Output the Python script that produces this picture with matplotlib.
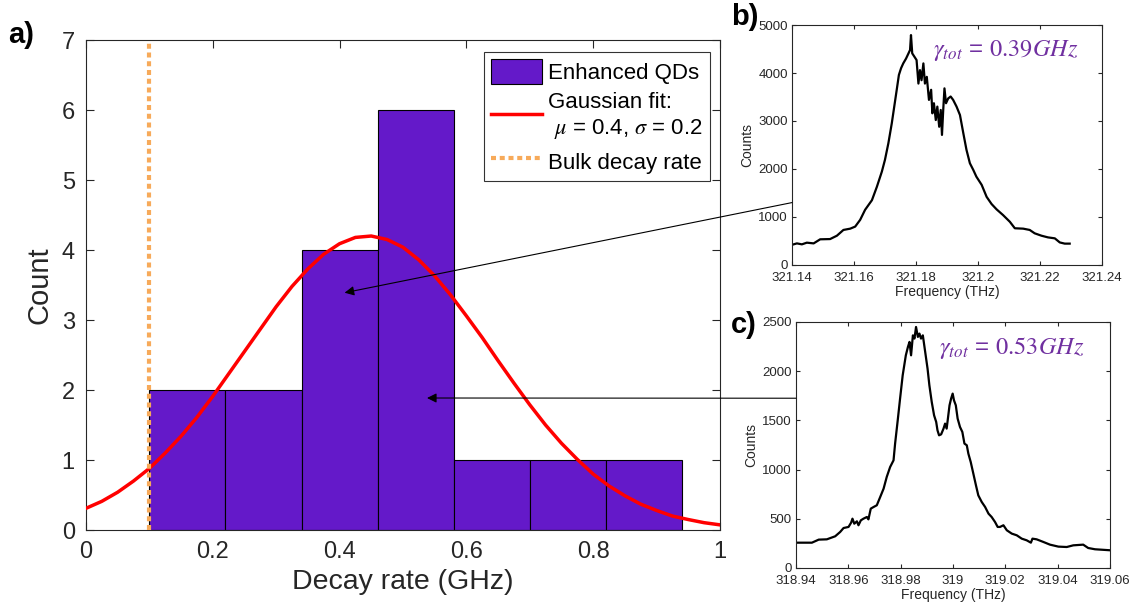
import matplotlib
matplotlib.use("Agg")
import matplotlib.pyplot as plt
import numpy as np
from matplotlib.patches import ConnectionPatch
from matplotlib.ticker import FormatStrFormatter

plt.rcParams['font.family'] = ['Liberation Sans', 'DejaVu Sans']
plt.rcParams['mathtext.fontset'] = 'stix'

# histogram of decay rates
bin_edges = [0.1, 0.22, 0.34, 0.46, 0.58, 0.70, 0.82, 0.94]
counts = [2, 2, 4, 6, 1, 1, 1]
bulk_rate = 0.1

# gaussian fit curve
fit_x = [0.0, 0.025, 0.05, 0.075, 0.1, 0.125, 0.15, 0.175, 0.2, 0.225,
         0.25, 0.275, 0.3, 0.325, 0.35, 0.375, 0.4, 0.425, 0.45, 0.475,
         0.5, 0.525, 0.55, 0.575, 0.6, 0.625, 0.65, 0.675, 0.7, 0.725,
         0.75, 0.775, 0.8, 0.825, 0.85, 0.875, 0.9, 0.925, 0.95, 0.975, 1.0]
fit_y = [0.31, 0.41, 0.54, 0.70, 0.88, 1.10, 1.34, 1.61, 1.91, 2.23,
         2.55, 2.87, 3.19, 3.48, 3.73, 3.94, 4.09, 4.18, 4.20, 4.15,
         4.04, 3.86, 3.63, 3.36, 3.06, 2.75, 2.42, 2.10, 1.79, 1.50,
         1.24, 1.01, 0.80, 0.63, 0.49, 0.37, 0.28, 0.20, 0.15, 0.105, 0.074]

# spectrum b)
freq_b = [321.1400, 321.1416, 321.1432, 321.1448, 321.1470, 321.1491, 321.1523,
          321.1545, 321.1566, 321.1588, 321.1604, 321.1620, 321.1636, 321.1658,
          321.1674, 321.1690, 321.1700, 321.1711, 321.1722, 321.1730, 321.1738,
          321.1745, 321.1752, 321.1759, 321.1768, 321.1776, 321.1781, 321.1784,
          321.1788, 321.1795, 321.1802, 321.1808, 321.1813, 321.1818, 321.1824,
          321.1829, 321.1835, 321.1842, 321.1849, 321.1853, 321.1858, 321.1864,
          321.1869, 321.1875, 321.1880, 321.1884, 321.1888, 321.1892, 321.1897,
          321.1904, 321.1912, 321.1920, 321.1931, 321.1942, 321.1953, 321.1963,
          321.1974, 321.1985, 321.1995, 321.2012, 321.2028, 321.2044, 321.2060,
          321.2081, 321.2103, 321.2119, 321.2146, 321.2167, 321.2183, 321.2205,
          321.2226, 321.2248, 321.2264, 321.2280, 321.2296]
counts_b = [420, 450, 430, 465, 450, 535, 540,
            610, 730, 757, 800, 940, 1150, 1350,
            1630, 1945, 2190, 2535, 2950, 3300, 3650,
            3960, 4100, 4200, 4300, 4410, 4480, 4790,
            4410, 4340, 4270, 3780, 4060, 3850, 4200,
            3780, 3920, 3440, 3650, 3160, 3370, 3020,
            3300, 2880, 3230, 2710, 3230, 3680, 3370,
            3470, 3510, 3440, 3300, 3125, 2740, 2400,
            2120, 1980, 1840, 1670, 1420, 1270, 1160,
            1040, 900, 765, 757, 730, 660, 610,
            575, 555, 470, 445, 445]

# spectrum c)
freq_c = [318.9400, 318.9461, 318.9487, 318.9518, 318.9550, 318.9569, 318.9582,
          318.9601, 318.9611, 318.9616, 318.9623, 318.9633, 318.9639, 318.9648,
          318.9658, 318.9671, 318.9677, 318.9686, 318.9697, 318.9709, 318.9722,
          318.9735, 318.9747, 318.9760, 318.9773, 318.9779, 318.9789, 318.9798,
          318.9808, 318.9820, 318.9828, 318.9834, 318.9840, 318.9847, 318.9853,
          318.9859, 318.9866, 318.9872, 318.9878, 318.9885, 318.9894, 318.9903,
          318.9910, 318.9919, 318.9928, 318.9936, 318.9941, 318.9947, 318.9955,
          318.9964, 318.9970, 318.9976, 318.9980, 318.9987, 318.9993, 318.9999,
          319.0004, 319.0011, 319.0018, 319.0027, 319.0036, 319.0044, 319.0053,
          319.0059, 319.0068, 319.0078, 319.0088, 319.0097, 319.0110, 319.0123,
          319.0136, 319.0148, 319.0161, 319.0171, 319.0180, 319.0193, 319.0206,
          319.0225, 319.0244, 319.0263, 319.0282, 319.0298, 319.0304, 319.0320,
          319.0346, 319.0371, 319.0403, 319.0435, 319.0460, 319.0498, 319.0517,
          319.0543, 319.0600]
counts_c = [257, 257, 288, 291, 322, 366, 406,
            417, 461, 501, 450, 474, 434, 484,
            501, 518, 494, 603, 620, 637, 721,
            806, 925, 1026, 1094, 1264, 1501, 1721,
            1958, 2161, 2246, 2297, 2161, 2364, 2331,
            2449, 2348, 2382, 2331, 2364, 2195, 2026,
            1856, 1687, 1551, 1484, 1399, 1348, 1358,
            1416, 1467, 1416, 1501, 1653, 1721, 1772,
            1704, 1653, 1518, 1433, 1382, 1264, 1247,
            1162, 1077, 959, 840, 738, 671, 620,
            552, 518, 467, 417, 417, 434, 383,
            349, 332, 298, 281, 257, 298, 291,
            264, 237, 217, 213, 230, 237, 203,
            190, 180]

dark = '#262626'
purple_bar = '#6419C9'
purple_txt = '#7030A0'

fig = plt.figure(figsize=(11.4, 6.1), dpi=100)
ax = fig.add_axes([0.0754, 0.1311, 0.5561, 0.8033])
axb = fig.add_axes([0.6947, 0.5656, 0.2719, 0.3934])
axc = fig.add_axes([0.6982, 0.0689, 0.2754, 0.4033])

# main histogram
widths = np.diff(bin_edges)
h_bar = ax.bar(bin_edges[:-1], counts, width=widths, align='edge', color=purple_bar,
               edgecolor='black', linewidth=0.8, zorder=2)
h_fit, = ax.plot(fit_x, fit_y, color='red', lw=2.5, zorder=3)
h_bulk = ax.axvline(bulk_rate, color='#F7AA5A', lw=3, linestyle=(0, (1.2, 0.9)),
                    zorder=4)
ax.set_xlim(0, 1)
ax.set_ylim(0, 7)
ax.set_xticks(np.arange(0, 1.01, 0.2))
ax.set_yticks(range(0, 8))
ax.xaxis.set_major_formatter(FormatStrFormatter('%g'))
ax.set_xlabel('Decay rate (GHz)', fontsize=20.5, color=dark)
ax.set_ylabel('Count', fontsize=21, color=dark, labelpad=6)
ax.tick_params(direction='in', top=True, right=True, labelsize=17,
               colors=dark, length=6, pad=8)
leg = ax.legend([h_bar, h_fit, h_bulk],
                ['Enhanced QDs', 'Gaussian fit:\n $\\mu$ = 0.4, $\\sigma$ = 0.2',
                 'Bulk decay rate'],
                loc='upper right', bbox_to_anchor=(0.984, 0.9755), fontsize=16,
                frameon=True, fancybox=False, edgecolor='black',
                handlelength=2.3, handleheight=1.4, borderpad=0.3,
                labelspacing=0.35, handletextpad=0.3, borderaxespad=0)
leg.get_frame().set_linewidth(0.8)

# spectra
for a, f, c, xl, yl, yt, txt in [
        (axb, freq_b, counts_b, (321.14, 321.24), (0, 5000), 1000, '0.39'),
        (axc, freq_c, counts_c, (318.94, 319.06), (0, 2500), 500, '0.53')]:
    a.plot(f, c, color='black', lw=1.6)
    a.set_xlim(*xl)
    a.set_ylim(*yl)
    a.set_xticks(np.arange(xl[0], xl[1] + 1e-6, 0.02))
    a.set_yticks(np.arange(yl[0], yl[1] + 1, yt))
    a.xaxis.set_major_formatter(FormatStrFormatter('%g'))
    a.tick_params(direction='in', top=True, right=True, labelsize=9.5,
                  colors=dark, length=3)
    a.tick_params(axis='x', pad=5)
    a.tick_params(axis='y', pad=3)
    a.set_xlabel('Frequency (THz)', fontsize=10, color=dark, labelpad=1)
    a.set_ylabel('Counts', fontsize=10, color=dark, labelpad=3)
    for s in a.spines.values():
        s.set_color(dark)
    a.text(0.455, 0.895, '$\\gamma_{tot}$ = $%sGHz$' % txt, transform=a.transAxes,
           fontsize=17.5, color=purple_txt, ha='left', va='center')

for s in ax.spines.values():
    s.set_color(dark)

# arrows from spectra to bins
con1 = ConnectionPatch(xyA=(321.14, 1300), coordsA=axb.transData,
                       xyB=(0.408, 3.39), coordsB=ax.transData,
                       arrowstyle='-|>', color='black', lw=0.8,
                       mutation_scale=14)
fig.add_artist(con1)
con2 = ConnectionPatch(xyA=(318.94, 1725), coordsA=axc.transData,
                       xyB=(0.538, 1.886), coordsB=ax.transData,
                       arrowstyle='-|>', color='black', lw=0.8,
                       mutation_scale=14)
fig.add_artist(con2)

# panel labels
fig.text(0.007, 0.943, 'a)', fontsize=21, fontweight='bold', va='center')
fig.text(0.641, 0.972, 'b)', fontsize=21, fontweight='bold', va='center')
fig.text(0.641, 0.467, 'c)', fontsize=21, fontweight='bold', va='center')

fig.savefig('out.png', dpi=100)
